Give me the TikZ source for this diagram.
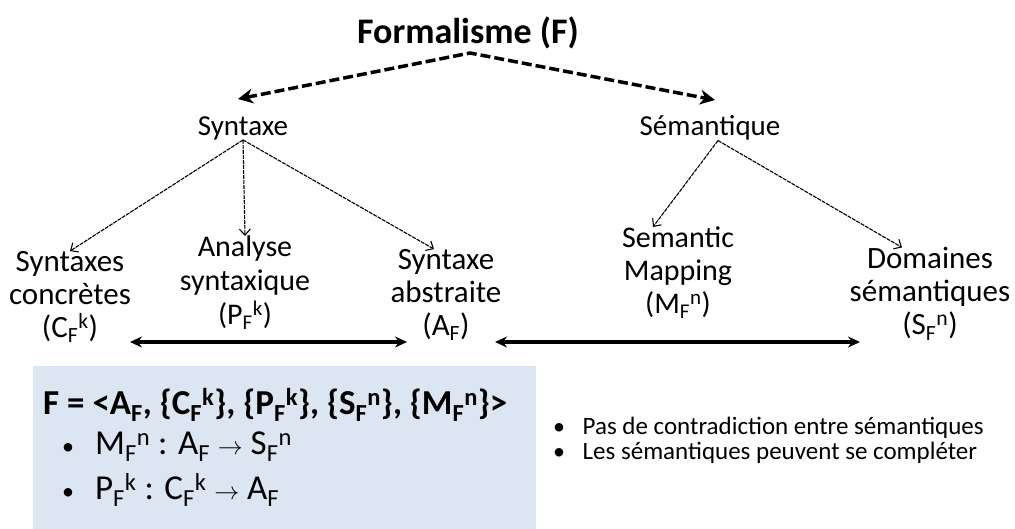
\documentclass[tikz,border=0pt]{standalone}
\usepackage{fontspec}
\setmainfont{Carlito}
\usetikzlibrary{arrows.meta,positioning,calc}
\definecolor{bleuboite}{HTML}{DCE6F2}
\newcommand{\puce}{{\fontsize{24}{24}\selectfont\textbullet}}

\begin{document}
\begin{tikzpicture}[
  x=1pt, y=-1pt,
  every node/.style={inner sep=0pt, align=center},
  titre/.style={font=\bfseries\fontsize{36}{40}\selectfont},
  branche/.style={font=\fontsize{29}{34}\selectfont},
  concept/.style={font=\fontsize{31}{33}\selectfont},
  formule/.style={font=\fontsize{35}{36}\selectfont, anchor=west},
  remarque/.style={font=\fontsize{25}{26}\selectfont, anchor=west},
  grosfleche/.style={{Stealth[length=15pt,width=15pt]}-{Stealth[length=15pt,width=15pt]},
    line width=3.5pt, dash pattern=on 10pt off 4pt},
  fine/.style={-{Straight Barb[length=6pt,width=11pt]}, line width=1.1pt,
    dash pattern=on 4pt off 1pt},
  lien/.style={{Stealth[length=12pt,width=11pt]}-{Stealth[length=12pt,width=11pt]},
    line width=3.5pt}
]
  \useasboundingbox (0,0) rectangle (1015,529);
  \fill[bleuboite] (33,366) rectangle (536,529);

  % arbre du formalisme
  \node[titre] (form) at (468,33) {Formalisme (F)};
  \node[branche] (syn) at (243,128) {Syntaxe};
  \node[branche] (sem) at (710,128) {Sémantique};

  \node[concept] (conc) at (70,297) {Syntaxes\\concrètes\\(C\textsubscript{F}\textsuperscript{k})};
  \node[concept, font=\fontsize{30}{34}\selectfont] (anal) at (245,283)
    {Analyse\\syntaxique\\(P\textsubscript{F}\textsuperscript{k})};
  \node[concept] (abs) at (446,295) {Syntaxe\\abstraite\\(A\textsubscript{F})};
  \node[concept, font=\fontsize{30}{33}\selectfont] (map) at (678,273)
    {Semantic\\Mapping\\(M\textsubscript{F}\textsuperscript{n})};
  \node[concept] (dom) at (930,294)
    {Domaines\\sémantiques\\(S\textsubscript{F}\textsuperscript{n})};

  \coordinate (apex) at (470,53);
  \coordinate (gauche) at (238,99);
  \coordinate (droite) at (715,100);
  \coordinate (niveau) at (0,342);

  \draw[grosfleche] (gauche) -- (apex) -- (droite);

  \draw[fine] (syn.south) -- (conc.north);
  \draw[fine] (syn.south) -- (anal.north);
  \draw[fine] (syn.south) -- ([xshift=-12pt]abs.north);
  \draw[fine] ([xshift=8pt]sem.south) -- ([xshift=-25pt]map.north);
  \draw[fine] ([xshift=8pt]sem.south) -- ([xshift=-28pt]dom.north);

  \draw[lien] ($(conc.center |- niveau)+(60,0)$) -- ($(abs.center |- niveau)+(-39,0)$);
  \draw[lien] ($(abs.center |- niveau)+(49,0)$) -- ($(dom.center |- niveau)+(-70,0)$);

  % definition
  \node[formule, font=\bfseries\fontsize{35}{38}\selectfont] (def) at (43,405)
    {F = <A\textsubscript{F}, \{C\textsubscript{F}\textsuperscript{k}\}, \{P\textsubscript{F}\textsuperscript{k}\}, \{S\textsubscript{F}\textsuperscript{n}\}, \{M\textsubscript{F}\textsuperscript{n}\}>};
  \node[formule] (regleM) at (62,447)
    {\puce\hspace{0.6em}M\textsubscript{F}\textsuperscript{n} : A\textsubscript{F} $\rightarrow$ S\textsubscript{F}\textsuperscript{n}};
  \node[formule] (regleP) at (62,490)
    {\puce\hspace{0.6em}P\textsubscript{F}\textsuperscript{k} : C\textsubscript{F}\textsuperscript{k} $\rightarrow$ A\textsubscript{F}};

  \node[remarque] (noteA) at (553,428) {\puce\hspace{0.7em}Pas de contradiction entre sémantiques};
  \node[remarque] (noteB) at (553,453) {\puce\hspace{0.7em}Les sémantiques peuvent se compléter};
\end{tikzpicture}
\end{document}
